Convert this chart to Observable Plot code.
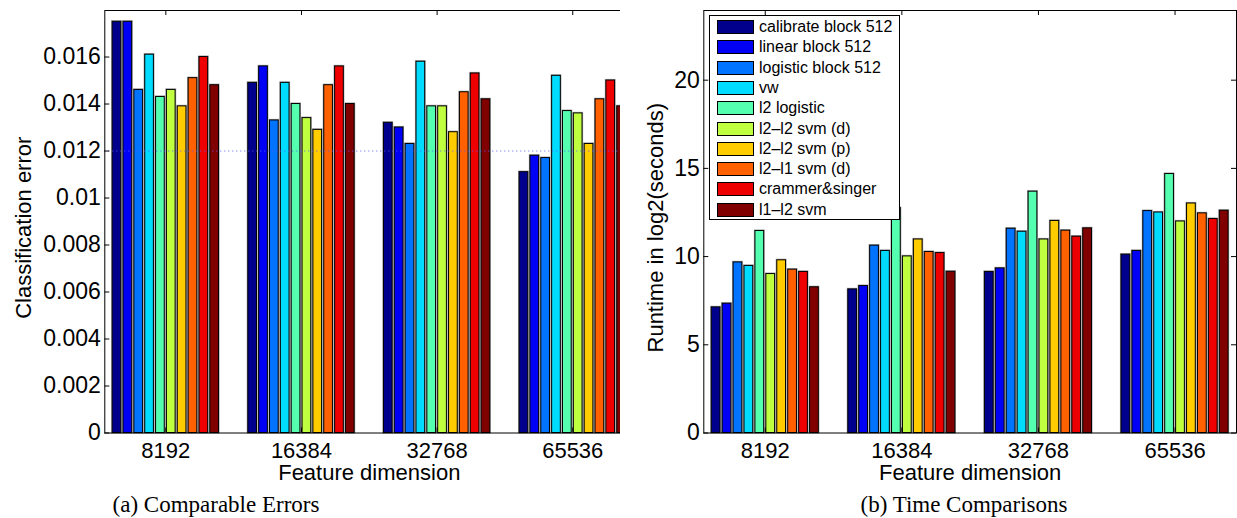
<!DOCTYPE html>
<html>
<head>
<meta charset="utf-8">
<script src="https://cdn.jsdelivr.net/npm/d3@7"></script>
<script src="https://cdn.jsdelivr.net/npm/@observablehq/plot@0.6"></script>
<style>
  html, body { margin: 0; padding: 0; background: white; }
  #wrap { position: relative; width: 1237px; height: 518px; overflow: hidden; font-family: "Liberation Sans", Arial, sans-serif; }
  .panel { position: absolute; top: 0; }
  .caption { position: absolute; top: 491px; font-family: "Liberation Serif", "DejaVu Serif", serif; font-size: 23px; line-height: 28px; white-space: nowrap; transform: translateX(-50%); color: #000; }
  #legend { position: absolute; left: 709px; top: 15px; width: 189px; height: 203px; border: 1px solid #000; background: #fff; z-index: 5; box-sizing: content-box; }
  .row { position: absolute; left: 0; height: 20px; display: flex; align-items: center; font-size: 16px; color: #000; white-space: nowrap; }
  .sw { width: 37px; height: 14px; border: 1px solid #000; margin-left: 7px; margin-right: 5px; box-sizing: border-box; }
</style>
</head>
<body>
<div id="wrap">
  <div id="left" class="panel" style="left:0px"></div>
  <div id="right" class="panel" style="left:620px"></div>
  <div id="legend"></div>
  <div class="caption" style="left:216px">(a) Comparable Errors</div>
  <div class="caption" style="left:964px">(b) Time Comparisons</div>
</div>
<script>
const methods = ["calibrate block 512", "linear block 512", "logistic block 512", "vw", "l2 logistic",
                 "l2\u2013l2 svm (d)", "l2\u2013l2 svm (p)", "l2\u2013l1 svm (d)", "crammer&singer", "l1\u2013l2 svm"];
const colors = ["#00008C", "#0000F5", "#0073FF", "#00DCFF", "#55FFB0", "#C0FF40", "#FFCC00", "#FF6000", "#EE0000", "#800000"];
const dims = ["8192", "16384", "32768", "65536"];

// Classification error per feature dimension (one value per method)
const err8192  = [0.0175, 0.0175, 0.0146, 0.0161, 0.0143, 0.0146, 0.0139, 0.0151, 0.0160, 0.0148];
const err16384 = [0.0149, 0.0156, 0.0133, 0.0149, 0.0140, 0.0134, 0.0129, 0.0148, 0.0156, 0.0140];
const err32768 = [0.0132, 0.0130, 0.0123, 0.0158, 0.0139, 0.0139, 0.0128, 0.0145, 0.0153, 0.0142];
const err65536 = [0.0111, 0.0118, 0.0117, 0.0152, 0.0137, 0.0136, 0.0123, 0.0142, 0.0150, 0.0139];

// Runtime in log2(seconds)
const time8192  = [7.12, 7.33, 9.67, 9.47, 11.45, 9.01, 9.79, 9.26, 9.13, 8.26];
const time16384 = [8.14, 8.33, 10.62, 10.32, 12.75, 10.01, 10.97, 10.26, 10.20, 9.14];
const time32768 = [9.13, 9.33, 11.58, 11.41, 13.68, 10.97, 12.02, 11.47, 11.13, 11.60];
const time65536 = [10.11, 10.32, 12.58, 12.50, 14.68, 11.99, 13.01, 12.45, 12.13, 12.60];

const errTicks = [0, 0.002, 0.004, 0.006, 0.008, 0.01, 0.012, 0.014, 0.016];
const timeTicks = [0, 5, 10, 15, 20];
const referenceError = 0.012;

// MATLAB-style grouped bar layout: group width 0.8, bar width 0.8 of each slot
function buildRows(series) {
  const n = methods.length, groupWidth = 0.8, slot = groupWidth / n, barW = slot * 0.8;
  const out = [];
  series.forEach((vals, g) => vals.forEach((v, j) => {
    const c = (g + 1) - groupWidth / 2 + (j + 0.5) * slot;
    out.push({dim: dims[g], method: methods[j], value: v, x1: c - barW / 2, x2: c + barW / 2});
  }));
  return out;
}

function panel({data, yDomain, yTicks, yFormat, yLabel, width, marginLeft, marginRight, labelDx, extra = []}) {
  const height = 485, marginTop = 10, marginBottom = 52.5;
  const pw = width - marginLeft - marginRight, ph = height - marginTop - marginBottom;
  const groups = dims.map((d, i) => i + 1);
  return Plot.plot({
    width, height, marginLeft, marginRight, marginTop, marginBottom,
    x: {domain: [0.55, 4.45], axis: null, label: null},
    y: {domain: yDomain, axis: null, label: null},
    color: {domain: methods, range: colors},
    style: {fontFamily: "'Liberation Sans', Arial, sans-serif", background: "white", color: "black", overflow: "visible"},
    marks: [
      Plot.rectY(data, {x1: "x1", x2: "x2", y: "value", fill: "method", stroke: "#a8a8a8", strokeWidth: 2.2}),
      Plot.rectY(data, {x1: "x1", x2: "x2", y: "value", fill: "method", stroke: "black", strokeWidth: 1}),
      ...extra,
      Plot.frame({stroke: "black", strokeWidth: 1}),
      Plot.tickY(yTicks, {y: d => d, stroke: "black", insetRight: pw - 5}),
      Plot.tickY(yTicks, {y: d => d, stroke: "black", insetLeft: pw - 5}),
      Plot.tickX(groups, {x: d => d, stroke: "black", insetTop: ph - 5}),
      Plot.tickX(groups, {x: d => d, stroke: "black", insetBottom: ph - 5}),
      Plot.axisY(yTicks, {tickSize: 0, tickPadding: 4, fontSize: 23, tickFormat: yFormat, label: null}),
      Plot.axisX(groups, {tickSize: 0, tickPadding: 9, fontSize: 22, tickFormat: d => dims[d - 1], label: null}),
      Plot.text(["Feature dimension"], {frameAnchor: "bottom", dy: 40, lineAnchor: "middle", textAnchor: "middle", fontSize: 22, text: d => d}),
      Plot.text([yLabel], {frameAnchor: "left", dx: labelDx, dy: 6, rotate: -90, textAnchor: "middle", lineAnchor: "middle", fontSize: 22, text: d => d})
    ]
  });
}

const errData = buildRows([err8192, err16384, err32768, err65536]);
const timeData = buildRows([time8192, time16384, time32768, time65536]);

document.getElementById("left").append(panel({
  data: errData, yDomain: [0, 0.01798], yTicks: errTicks, yFormat: d => String(d),
  yLabel: "Classification error", width: 640, marginLeft: 104.3, marginRight: 6.7, labelDx: -81,
  extra: [Plot.ruleY([referenceError], {stroke: "#5a5aff", strokeWidth: 1, strokeDasharray: "1,3"})]
}));

document.getElementById("right").append(panel({
  data: timeData, yDomain: [0, 23.95], yTicks: timeTicks, yFormat: d => String(d),
  yLabel: "Runtime in log2(seconds)", width: 617, marginLeft: 83.3, marginRight: 1, labelDx: -48
}));

const legend = document.getElementById("legend");
methods.forEach((m, i) => {
  const row = document.createElement("div");
  row.className = "row";
  row.style.top = (1 + i * 20.3) + "px";
  const sw = document.createElement("div");
  sw.className = "sw";
  sw.style.background = colors[i];
  const tx = document.createElement("span");
  tx.textContent = m;
  row.append(sw, tx);
  legend.append(row);
});
</script>
</body>
</html>
